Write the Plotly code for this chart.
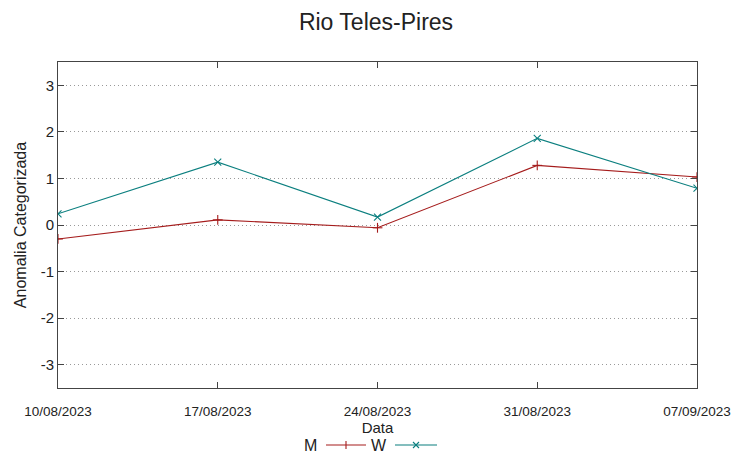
import plotly.graph_objects as go

dates = ["2023-08-10", "2023-08-17", "2023-08-24", "2023-08-31", "2023-09-07"]
tick_labels = ["10/08/2023", "17/08/2023", "24/08/2023", "31/08/2023", "07/09/2023"]
m_values = [-0.30, 0.11, -0.06, 1.28, 1.03]
w_values = [0.24, 1.35, 0.17, 1.86, 0.79]
y_ticks = [-3, -2, -1, 0, 1, 2, 3]
y_tick_labels = ["-3", "-2", "-1", "0", "1", "2", "3"]

RED = "#a51c1c"
TEAL = "#0b7f7f"
FONT = "Liberation Sans"

fig = go.Figure()
fig.add_trace(go.Scatter(x=dates, y=m_values, mode="lines+markers", name="M",
                         line=dict(color=RED, width=1.1),
                         marker=dict(symbol="line-ns", size=7, line=dict(color=RED, width=1.1)),
                         showlegend=False))
fig.add_trace(go.Scatter(x=dates, y=m_values, mode="markers", showlegend=False,
                         marker=dict(symbol="line-ew", size=7, line=dict(color=RED, width=1.1)),
                         hoverinfo="skip"))
fig.add_trace(go.Scatter(x=dates, y=w_values, mode="lines+markers", name="W",
                         line=dict(color=TEAL, width=1.1),
                         marker=dict(symbol="x-thin", size=7, line=dict(color=TEAL, width=1.1)),
                         showlegend=False))

# legend (gnuplot style: text then sample)
shapes = []
annotations = []
LY = 445
legend_items = [("M", RED, 310, 326, 366), ("W", TEAL, 379, 395, 437)]
for name, col, tx, x0, x1 in legend_items:
    annotations.append(dict(text=name, x=tx, y=LY, xref="paper", yref="paper",
                            showarrow=False, font=dict(family=FONT, size=16, color="#222")))
    shapes.append(dict(type="line", x0=x0, x1=x1, y0=LY, y1=LY,
                       line=dict(color=col, width=1.1)))
    xm = (x0 + x1) / 2
    if name == "M":
        shapes.append(dict(type="line", x0=xm, x1=xm, y0=LY - 4, y1=LY + 4, line=dict(color=col, width=1.1)))
    else:
        shapes.append(dict(type="line", x0=xm - 3, x1=xm + 3, y0=LY - 3, y1=LY + 3, line=dict(color=col, width=1.1)))
        shapes.append(dict(type="line", x0=xm - 3, x1=xm + 3, y0=LY + 3, y1=LY - 3, line=dict(color=col, width=1.1)))

# convert pixel coords to paper
W, H = 752, 458
L, R, T, B = 58, 55, 62, 70
pw, ph = W - L - R, H - T - B
def px(x):
    return (x - L) / pw
def py(y):
    return (H - B - y) / ph
for s in shapes:
    s["xref"] = "paper"; s["yref"] = "paper"
    s["x0"], s["x1"] = px(s["x0"]), px(s["x1"])
    s["y0"], s["y1"] = py(s["y0"]), py(s["y1"])
for a in annotations:
    a["x"], a["y"] = px(a["x"]), py(a["y"])
    a["xanchor"] = "center"; a["yanchor"] = "middle"

fig.update_layout(
    width=W, height=H,
    margin=dict(l=L, r=R, t=T, b=B, autoexpand=False),
    paper_bgcolor="white", plot_bgcolor="white",
    title=dict(text="Rio Teles-Pires", x=0.5, xanchor="center", y=1 - 22 / H, yanchor="middle",
               font=dict(family=FONT, size=23, color="#222")),
    font=dict(family=FONT, color="#222"),
    xaxis=dict(range=[dates[0], dates[-1]], tickvals=dates, ticktext=tick_labels,
               automargin=False,
               showgrid=False, zeroline=False, showline=True, linecolor="#444", linewidth=1,
               mirror="allticks", ticks="inside", ticklen=6, tickcolor="#444",
               ticklabelstandoff=11,
               tickfont=dict(family=FONT, size=13.5, color="#222"),
               title=dict(text="Data", font=dict(family=FONT, size=15, color="#222"), standoff=0)),
    yaxis=dict(range=[-3.5, 3.5], tickvals=y_ticks, ticktext=y_tick_labels,
               automargin=False,
               showgrid=True, gridcolor="#999999", griddash="1px,3px", gridwidth=1,
               zeroline=False, showline=True, linecolor="#444", linewidth=1,
               mirror="allticks", ticks="inside", ticklen=6, tickcolor="#444",
               tickfont=dict(family=FONT, size=15, color="#222"),
               title=dict(text="Anomalia Categorizada", font=dict(family=FONT, size=16, color="#222"),
                          standoff=10)),
    shapes=shapes, annotations=annotations,
)

fig.write_html("out.html", config={"displayModeBar": False},
               post_script="document.body.style.margin='0';document.body.style.overflow='hidden';")
